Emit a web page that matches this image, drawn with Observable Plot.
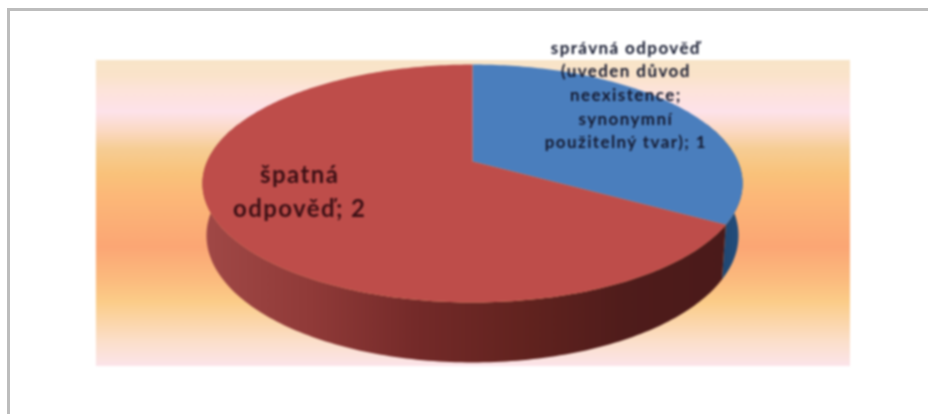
<!DOCTYPE html>
<html lang="cs">
<head>
<meta charset="utf-8">
<script src="https://cdn.jsdelivr.net/npm/d3@7"></script>
<script src="https://cdn.jsdelivr.net/npm/@observablehq/plot@0.6"></script>
<style>
html,body{margin:0;padding:0;background:#fff;width:928px;height:414px;overflow:hidden}
#box{position:absolute;left:7px;top:8px;width:1000px;height:500px;border:3px solid #bdbdbd;box-sizing:border-box}
#chart{position:absolute;left:0;top:0}
#chart svg{display:block;filter:blur(.8px)}
.lab-small text{letter-spacing:1.4px}
.lab-big text{letter-spacing:1.4px}
</style>
</head>
<body>
<div id="chart"></div>
<div id="box"></div>
<script>
const categories = ["správná odpověď", "špatná odpověď"];
const values = [1, 2];
const topColors = ["#4a7ebd", "#be4d4a"];
const sideFills = ["url(#sideBlue)", "url(#sideRed)"];
const labelLines = [
  ["správná odpověď", "(uveden důvod", "neexistence;", "synonymní", "použitelný tvar); 1"],
  ["špatná", "odpověď; 2"]
];
const labelColors = ["#14192f", "#3a0f14"];

// Perspective of the tilted disc
const k = -0.185, dropY = 0.437, scaleX = 0.985, scaleY = 1.067;
const project = (deg, lower = false) => {
  const a = deg * Math.PI / 180, u = Math.sin(a), v = -Math.cos(a), w = 1 + k * v;
  const x = 0.983 * u / w, y = (-22 + 114.9 * v / w) / 119;
  return lower ? {x: x * scaleX, y: y * scaleY + dropY} : {x, y};
};
const arcs = d3.pie().sort(null).value(d => d)(values)
  .map(a => ({startAngle: a.startAngle * 180 / Math.PI, endAngle: a.endAngle * 180 / Math.PI}));
const topRows = [], sideRows = [];
arcs.forEach((arc, i) => {
  topRows.push({i, x: 0, y: -22 / 119});
  d3.range(arc.startAngle, arc.endAngle + 1, 1).forEach(deg => topRows.push({i, ...project(deg)}));
  const from = Math.max(arc.startAngle, 70), to = Math.min(arc.endAngle, 290);
  if (to > from) {
    const span = d3.range(from, to + 0.5, 1);
    span.forEach(deg => sideRows.push({i, ...project(deg)}));
    span.slice().reverse().forEach(deg => sideRows.push({i, ...project(deg, true)}));
  }
});

const gradient = (id, attrs, stops) => () => {
  const defs = d3.create("svg:defs");
  const g = defs.append("linearGradient").attr("id", id);
  Object.entries(attrs).forEach(([a, b]) => g.attr(a, b));
  stops.forEach(([o, c]) => g.append("stop").attr("offset", o).attr("stop-color", c));
  return defs.node();
};

const labelRows = [];
const placeLabel = (lines, i, cx, cy, size, step) => lines.forEach((t, n) =>
  labelRows.push({t, i, size, x: cx, y: cy + n * step}));
placeLabel(labelLines[0], 0, 0.568, -1.137, 17, 0.1985);
placeLabel(labelLines[1], 1, -0.64, -0.067, 24, 0.286);

const plot = Plot.plot({
  width: 928, height: 414, margin: 0,
  style: {background: "transparent"},
  x: {domain: [-1, 1], range: [202, 742], axis: null},
  y: {domain: [-1, 1], range: [64, 302], axis: null},
  marks: [
    gradient("bgFill", {x1: 0, y1: 0, x2: 0, y2: 1}, [
      [0, "#f8e5c8"], [0.05, "#fae3ca"], [0.1, "#fde3da"], [0.17, "#fde2ea"], [0.235, "#fbd8c0"],
      [0.29, "#f6cd94"], [0.37, "#f9c27a"], [0.44, "#fcb878"], [0.61, "#fba674"], [0.72, "#fbbb7e"],
      [0.79, "#fbcc88"], [0.92, "#fbdfca"], [1, "#fbe4ea"]
    ]),
    gradient("sideRed", {gradientUnits: "userSpaceOnUse", x1: 205, y1: 0, x2: 730, y2: 0}, [
      [0, "#a04846"], [0.2, "#903a38"], [0.4, "#742a29"], [0.6, "#62231f"], [0.8, "#4f1c1b"], [1, "#4a1a1a"]
    ]),
    gradient("sideBlue", {gradientUnits: "userSpaceOnUse", x1: 700, y1: 0, x2: 745, y2: 0}, [
      [0, "#1c3e66"], [1, "#24507f"]
    ]),
    Plot.rect([0], {x1: -1.393, x2: 1.4, y1: -1.034, y2: 1.538, fill: "url(#bgFill)"}),
    ...arcs.map((a, i) => Plot.line(sideRows.filter(d => d.i === i), {x: "x", y: "y", fill: sideFills[i], stroke: "none", curve: "linear"})),
    ...arcs.map((a, i) => Plot.line(topRows.filter(d => d.i === i), {x: "x", y: "y", fill: topColors[i], stroke: "none", curve: "linear"})),
    ...[[17, "lab-small"], [24, "lab-big"]].map(([size, cls]) => Plot.text(labelRows.filter(d => d.size === size), {
      x: "x", y: "y", text: "t", fontSize: size, fontFamily: "Lato", fontWeight: 700,
      fill: d => labelColors[d.i], lineAnchor: "middle", textAnchor: "middle", className: cls
    }))
  ]
});
document.getElementById("chart").append(plot);
</script>
</body>
</html>
